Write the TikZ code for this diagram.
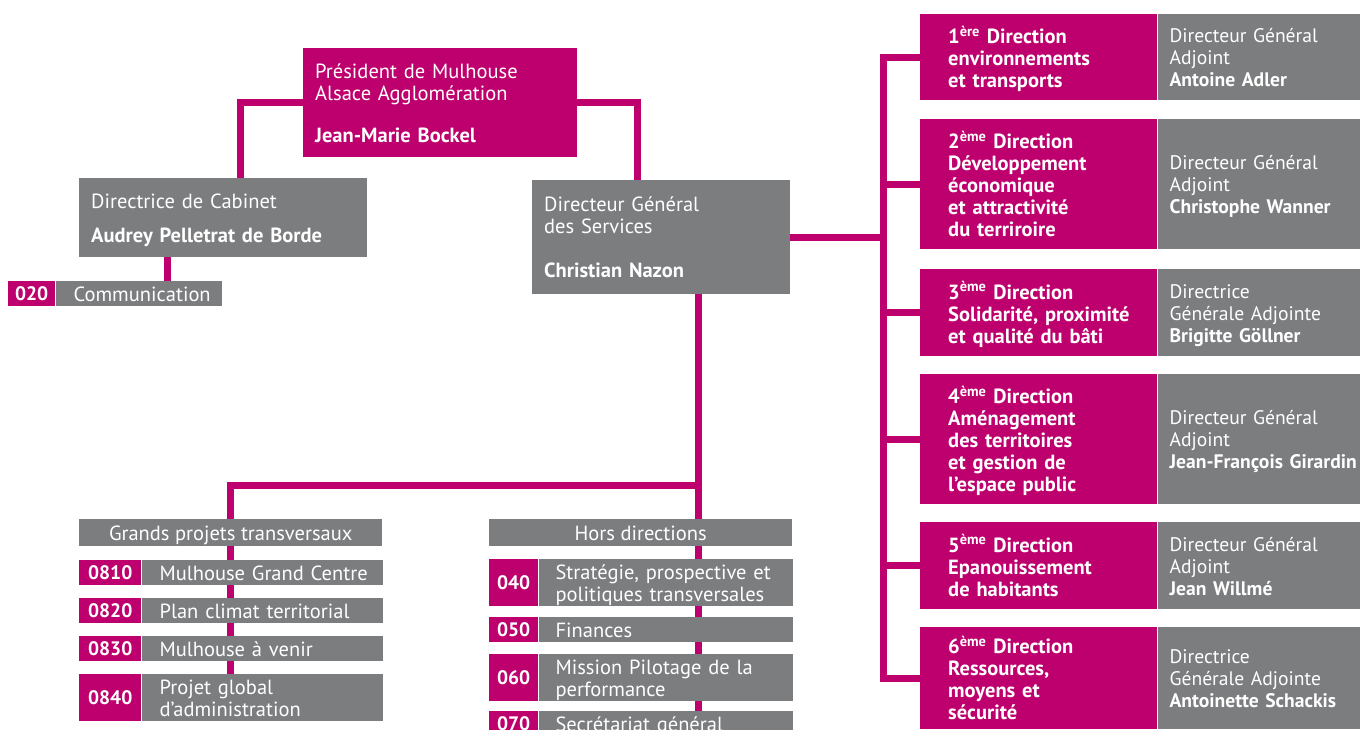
\documentclass[tikz,border=0pt]{standalone}
\usepackage{fontspec}
\setmainfont{PT Sans}
\usetikzlibrary{positioning,backgrounds}
\definecolor{mag}{HTML}{BE006E}
\definecolor{grey}{HTML}{7C7D7F}
\newcommand{\stack}[1]{\raisebox{-3pt}[\height][\depth]{\begin{tabular}{@{}l@{}}#1\end{tabular}}}
\tikzset{
  base/.style={anchor=north west, inner xsep=12pt, inner ysep=0pt, align=left,
    text=white, font=\fontsize{20.5}{22}\selectfont},
  magbox/.style={base, fill=mag},
  greybox/.style={base, fill=grey},
  adjbox/.style={greybox, text width=189pt, font=\fontsize{19.6}{22}\selectfont},
  headbox/.style={base, fill=grey, align=center, minimum width=303pt, minimum height=27pt},
  code/.style={anchor=north west, fill=mag, text=white, inner sep=0pt,
    font=\fontsize{19.5}{22}\selectfont\bfseries},
  link/.style={draw=mag, line width=7pt, line cap=rect},
}

\begin{document}
\begin{tikzpicture}[x=1pt, y=-1pt]
  \useasboundingbox (0,0) rectangle (1360,729);

  %%%%% top of the chart %%%%%
  \node[magbox, text width=250pt, minimum height=109pt] (pres) at (303,48)
    {\stack{Président de Mulhouse\\Alsace Agglomération\\[20pt]\textbf{Jean-Marie Bockel}}};
  \node[greybox, text width=264pt, minimum height=79pt] (cab) at (79,178)
    {\stack{Directrice de Cabinet\\[12pt]\textbf{Audrey Pelletrat de Borde}}};
  \node[code, minimum width=47pt, minimum height=25pt] (c020) at (8,281) {020};
  \node[greybox, inner xsep=18pt, text width=130pt, minimum height=25pt] (l020) at (c020.north east) {\stack{Communication}};
  \node[greybox, text width=234pt, minimum height=114pt] (dgs) at (532,180)
    {\stack{Directeur Général\\des Services\\[22pt]\textbf{Christian Nazon}}};

  %%%%% directions %%%%%
  \node[magbox, inner xsep=28pt, text width=181pt, minimum height=86pt] (d1) at (920,14)
    {\stack{\textbf{1\textsuperscript{ère} Direction}\\\textbf{environnements}\\\textbf{et transports}}};
  \node[adjbox, minimum height=86pt] (a1) at (d1.north east)
    {\stack{Directeur Général\\Adjoint\\\textbf{Antoine Adler}}};
  \node[magbox, inner xsep=28pt, text width=181pt, minimum height=130pt] (d2) at (920,119)
    {\stack{\textbf{2\textsuperscript{ème} Direction}\\\textbf{Développement}\\\textbf{économique}\\\textbf{et attractivité}\\\textbf{du terriroire}}};
  \node[adjbox, minimum height=130pt] (a2) at (d2.north east)
    {\stack{Directeur Général\\Adjoint\\\textbf{Christophe Wanner}}};
  \node[magbox, inner xsep=28pt, text width=181pt, minimum height=87pt] (d3) at (920,269)
    {\stack{\textbf{3\textsuperscript{ème} Direction}\\\textbf{Solidarité, proximité}\\\textbf{et qualité du bâti}}};
  \node[adjbox, minimum height=87pt] (a3) at (d3.north east)
    {\stack{Directrice\\Générale Adjointe\\\textbf{Brigitte Göllner}}};
  \node[magbox, inner xsep=28pt, text width=181pt, minimum height=130pt] (d4) at (920,374)
    {\stack{\textbf{4\textsuperscript{ème} Direction}\\\textbf{Aménagement}\\\textbf{des territoires}\\\textbf{et gestion de}\\\textbf{l’espace public}}};
  \node[adjbox, minimum height=130pt] (a4) at (d4.north east)
    {\stack{Directeur Général\\Adjoint\\\textbf{Jean-François Girardin}}};
  \node[magbox, inner xsep=28pt, text width=181pt, minimum height=87pt] (d5) at (920,522)
    {\stack{\textbf{5\textsuperscript{ème} Direction}\\\textbf{Epanouissement}\\\textbf{de habitants}}};
  \node[adjbox, minimum height=87pt] (a5) at (d5.north east)
    {\stack{Directeur Général\\Adjoint\\\textbf{Jean Willmé}}};
  \node[magbox, inner xsep=28pt, text width=181pt, minimum height=102pt] (d6) at (920,627)
    {\stack{\textbf{6\textsuperscript{ème} Direction}\\\textbf{Ressources,}\\\textbf{moyens et}\\\textbf{sécurité}}};
  \node[adjbox, minimum height=102pt] (a6) at (d6.north east)
    {\stack{Directrice\\Générale Adjointe\\\textbf{Antoinette Schackis}}};

  %%%%% grands projets %%%%%
  \node[headbox] (gpt) at (79,519) {\stack{Grands projets transversaux}};
  \node[code, minimum width=62pt, minimum height=25pt] (c0810) at (79,560) {0810};
  \node[greybox, inner xsep=18pt, text width=205pt, minimum height=25pt] (l0810) at (c0810.north east) {\stack{Mulhouse Grand Centre}};
  \node[code, minimum width=62pt, minimum height=25pt] (c0820) at (79,598) {0820};
  \node[greybox, inner xsep=18pt, text width=205pt, minimum height=25pt] (l0820) at (c0820.north east) {\stack{Plan climat territorial}};
  \node[code, minimum width=62pt, minimum height=25pt] (c0830) at (79,636) {0830};
  \node[greybox, inner xsep=18pt, text width=205pt, minimum height=25pt] (l0830) at (c0830.north east) {\stack{Mulhouse à venir}};
  \node[code, minimum width=62pt, minimum height=47pt] (c0840) at (79,674) {0840};
  \node[greybox, inner xsep=18pt, text width=205pt, minimum height=47pt] (l0840) at (c0840.north east) {\stack{Projet global\\d’administration}};

  %%%%% hors directions %%%%%
  \node[headbox] (hdt) at (489,519) {\stack{Hors directions}};
  \node[code, minimum width=49pt, minimum height=47pt] (c040) at (489,559) {040};
  \node[greybox, inner xsep=17pt, text width=220pt, minimum height=47pt] (l040) at (c040.north east) {\stack{Stratégie, prospective et\\politiques transversales}};
  \node[code, minimum width=49pt, minimum height=25pt] (c050) at (489,617) {050};
  \node[greybox, inner xsep=17pt, text width=220pt, minimum height=25pt] (l050) at (c050.north east) {\stack{Finances}};
  \node[code, minimum width=49pt, minimum height=47pt] (c060) at (489,654) {060};
  \node[greybox, inner xsep=17pt, text width=220pt, minimum height=47pt] (l060) at (c060.north east) {\stack{Mission Pilotage de la\\performance}};
  \node[code, minimum width=49pt, minimum height=25pt] (c070) at (489,711) {070};
  \node[greybox, inner xsep=17pt, text width=220pt, minimum height=25pt] (l070) at (c070.north east) {\stack{Secrétariat général}};

  \coordinate (bus) at (883,0);
  \coordinate (split) at (698,485);

  %%%%% links %%%%%
  \begin{scope}[on background layer]
    \draw[link] (pres.west) -| ([xshift=17pt]cab.north);
    \draw[link] (pres.east) -| ([xshift=-24pt]dgs.north);
    \draw[link] ([xshift=-56pt]cab.south) -- ([xshift=-56pt]cab.south |- l020.north);
    \draw[link] (dgs.east) -- (dgs.east -| bus);
    \draw[link] (d1.west -| bus) -- (d6.west -| bus);
    \foreach \dir in {d1,d2,d3,d4,d5,d6}
      \draw[link] (\dir.west) -- (\dir.west -| bus);
    \draw[link] ([xshift=37pt]dgs.south) -- ([xshift=37pt]dgs.south |- l070.south);
    \draw[link] (split) -| (gpt.north |- l0840.north);
  \end{scope}
\end{tikzpicture}
\end{document}
